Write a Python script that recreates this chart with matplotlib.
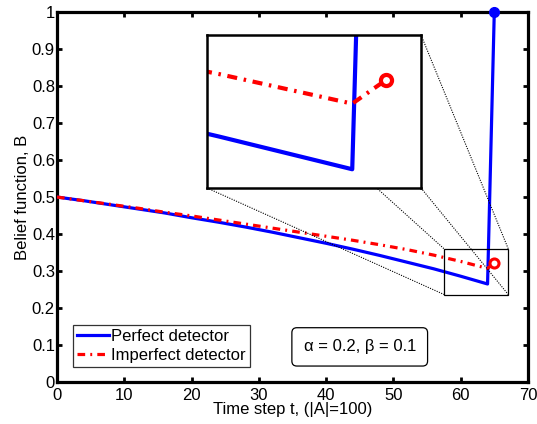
import matplotlib
matplotlib.use("Agg")
import matplotlib.pyplot as plt
from matplotlib.patches import Rectangle

plt.rcParams['font.family'] = ['Liberation Sans', 'DejaVu Sans']

# данные
t = [0, 4, 8, 12, 16, 20, 24, 28, 32, 36, 40, 44, 48, 52, 56, 60, 64, 65]
b_perfect = [0.500, 0.490, 0.479, 0.468, 0.457, 0.444, 0.432, 0.419, 0.405,
             0.390, 0.375, 0.359, 0.342, 0.324, 0.306, 0.286, 0.265, 1.000]
b_imperfect = [0.500, 0.490, 0.480, 0.470, 0.459, 0.449, 0.438, 0.427, 0.416,
               0.405, 0.394, 0.383, 0.371, 0.358, 0.343, 0.326, 0.307, 0.322]

x_ticks = [0, 10, 20, 30, 40, 50, 60, 70]
y_ticks = [0, 0.1, 0.2, 0.3, 0.4, 0.5, 0.6, 0.7, 0.8, 0.9, 1]
y_labels = ['0', '0.1', '0.2', '0.3', '0.4', '0.5', '0.6', '0.7', '0.8', '0.9', '1']

zoom_box = (57.6, 0.236, 9.5, 0.123)   # прямоугольник на основном графике
zoom_xlim = (59.65, 66.06)
zoom_ylim = (0.253, 0.351)

fig = plt.figure(figsize=(5.37, 4.24), dpi=100)
ax = fig.add_axes([0.1061, 0.099, 0.877, 0.8726])

dash = (2.4, 1.6, 0.6, 1.6)
ax.plot(t, b_perfect, color='blue', lw=2.3, label='Perfect detector', zorder=3)
ax.plot(t, b_imperfect, color='red', lw=2.3, dashes=dash,
        label='Imperfect detector', zorder=4)
ax.plot(t[-1], b_perfect[-1], 'o', color='blue', ms=7, clip_on=False, zorder=5)
ax.plot(t[-1], b_imperfect[-1], 'o', mfc='white', mec='red', mew=2.2, ms=6.5, zorder=5)

ax.set_xlim(0, 70)
ax.set_ylim(0, 1)
ax.set_xticks(x_ticks)
ax.set_yticks(y_ticks)
ax.set_yticklabels(y_labels)
ax.tick_params(direction='in', top=True, right=True, length=3.5, width=2,
               labelsize=12)
ax.tick_params(axis='y', pad=1.5)
ax.tick_params(axis='x', pad=4.5)
for s in ax.spines.values():
    s.set_linewidth(2.3)
ax.set_xlabel('Time step t, (|A|=100)', fontsize=12, labelpad=-1)
ax.set_ylabel('Belief function, B', fontsize=12, labelpad=1)

leg = ax.legend(loc='lower left', bbox_to_anchor=(0.034, 0.04), borderaxespad=0,
                fancybox=False, edgecolor='black', fontsize=12,
                handlelength=1.9, handletextpad=0.15, labelspacing=0.25,
                borderpad=0.25)
leg.get_frame().set_linewidth(0.9)

ax.text(45, 0.095, 'α = 0.2, β = 0.1', fontsize=12, ha='center', va='center',
        bbox=dict(boxstyle='round,pad=0.7,rounding_size=0.3', fc='white',
                  ec='black', lw=0.9))

# прямоугольник увеличенной области
rx, ry, rw, rh = zoom_box
ax.add_patch(Rectangle((rx, ry), rw, rh, fill=False, ec='black', lw=0.9, zorder=6))

# вставка
ins = fig.add_axes([0.3855, 0.5566, 0.3985, 0.361])
ins.plot(t, b_perfect, color='blue', lw=3)
ins.plot(t, b_imperfect, color='red', lw=3, dashes=dash)
ins.plot(t[-1], b_imperfect[-1], 'o', mfc='white', mec='red', mew=3, ms=8)
ins.set_xlim(*zoom_xlim)
ins.set_ylim(*zoom_ylim)
ins.set_xticks([])
ins.set_yticks([])
for s in ins.spines.values():
    s.set_linewidth(1.8)

# соединительные линии между вставкой и прямоугольником
ip = ins.get_position()
corners_fig = [(ip.x0, ip.y1), (ip.x0, ip.y0), (ip.x1, ip.y1), (ip.x1, ip.y0)]
corners_dat = [(rx, ry + rh), (rx, ry), (rx + rw, ry + rh), (rx + rw, ry)]
for cf, cd in zip(corners_fig, corners_dat):
    pf = fig.transFigure.transform(cf)
    pd_ = ax.transData.transform(cd)
    fig.add_artist(plt.Line2D([pf[0], pd_[0]], [pf[1], pd_[1]], transform=None,
                              color='black', lw=0.8, ls=(0, (1, 1.2)), zorder=1))
ins.set_zorder(10)

plt.savefig('out.png', dpi=100)
